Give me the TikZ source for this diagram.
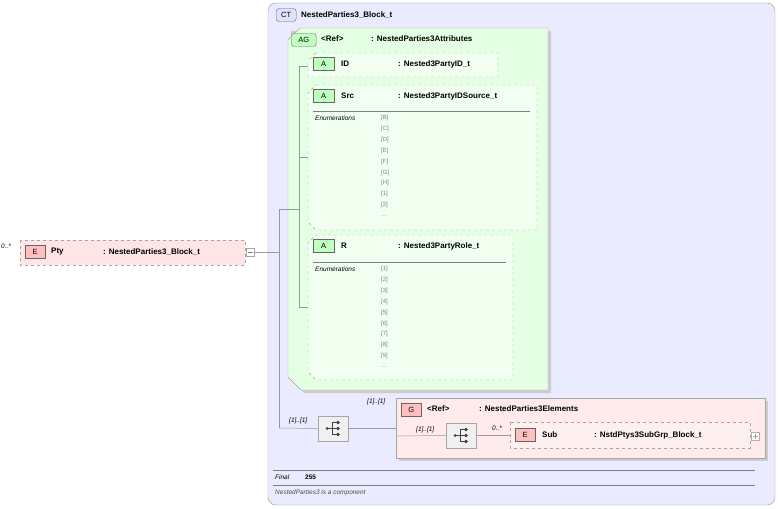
\documentclass[tikz,border=0pt]{standalone}
\usepackage{fontspec}
\setmainfont{Liberation Sans}
\begin{document}
\begin{tikzpicture}[x=1pt,y=-1pt,
 t/.style={font=\fontsize{8}{9}\selectfont\bfseries,anchor=west,inner sep=0pt},
 sm/.style={font=\fontsize{6.5}{7}\selectfont\itshape,anchor=west,inner sep=0pt},
 en/.style={font=\fontsize{6}{7}\selectfont,text=gray,anchor=west,inner sep=0pt},
 badge/.style={draw=gray!80!black,font=\fontsize{7.5}{8}\selectfont,inner sep=0pt,minimum height=13pt,anchor=west},
 dbox/.style={draw=gray!70,dashed},
 con/.style={draw=gray!80,line width=0.5pt}]
\useasboundingbox (0,0) rectangle (778,508);
% CT box
\draw[draw=gray!80,fill=blue!8,rounded corners=8] (268,3) rectangle (775,505);
\node[badge,fill=blue!12,rounded corners=3,minimum width=20pt] (ctb) at (276,15) {CT};
\node[t] (ctt) at (301,15) {NestedParties3\_Block\_t};
% AG box
\fill[gray!40] (291,31)--(551,31)--(551,393)--(304,393)--(291,380)--cycle;
\draw[draw=gray!70,fill=green!10] (300,28)--(548,28)--(548,390)--(301,390)--(288,377)--(288,40)--cycle;
\node[badge,fill=green!25,rounded corners=3,minimum width=25pt] (agb) at (291,40) {AG};
\node[t] (agr) at (321,39) {<Ref>};
\node[t] (agt) at (371,39) {: NestedParties3Attributes};
% ID
\draw[dbox,fill=green!6] (316,53)--(498,53)--(498,77)--(308,77)--(308,61)--cycle;
\node[badge,fill=green!25,minimum width=21pt] (idb) at (313,64) {A};
\node[t] (idn) at (341,64) {ID};
\node[t] (idt) at (398,64) {: Nested3PartyID\_t};
% Src
\draw[dbox,fill=green!6] (316,85)--(537,85)--(537,230)--(316,230)--(308,222)--(308,93)--cycle;
\node[badge,fill=green!25,minimum width=21pt] (srb) at (313,96) {A};
\node[t] (srn) at (341,96) {Src};
\node[t] (srt) at (398,96) {: Nested3PartyIDSource\_t};
\draw[gray] (313,111)--(530,111);
\node[sm] (sre) at (315,118) {Enumerations};
\foreach \s [count=\i from 0] in {{[B]},{[C]},{[D]},{[E]},{[F]},{[G]},{[H]},{[1]},{[2]}}
  \node[en] (se\i) at (381,118+10.9*\i) {\s};
\node[en] (sedots) at (381,216) {\ldots};
% R
\draw[dbox,fill=green!6] (316,235)--(513,235)--(513,380)--(316,380)--(308,372)--(308,243)--cycle;
\node[badge,fill=green!25,minimum width=21pt] (rb) at (313,246) {A};
\node[t] (rn) at (341,246) {R};
\node[t] (rt) at (398,246) {: Nested3PartyRole\_t};
\draw[gray] (313,262)--(506,262);
\node[sm] (re) at (315,269) {Enumerations};
\foreach \s [count=\i from 0] in {{[1]},{[2]},{[3]},{[4]},{[5]},{[6]},{[7]},{[8]},{[9]}}
  \node[en] (re\i) at (381,269+10.9*\i) {\s};
\node[en] (redots) at (381,367) {\ldots};
% attribute tree
\coordinate (a1) at (299,66); \coordinate (a2) at (299,307);
\draw[con] (308,66)--(a1)--(a2)--(308,307);
\draw[con] (299,157)--(308,157);
% Pty
\draw[dbox,fill=red!10] (20,240) rectangle (245,265);
\node[badge,fill=red!25,minimum width=20pt] (pe) at (25,252) {E};
\node[t] (pn) at (51,252) {Pty};
\node[t] (pt) at (103,252) {: NestedParties3\_Block\_t};
\node[sm] (pm) at (1,246) {0..*};
\node[draw=gray!70,fill=white,minimum size=8pt,inner sep=0pt] (minus) at (250,252) {};
\draw[gray] (247.5,252)--(252.5,252);
% main connector
\coordinate (j1) at (279,209); \coordinate (j2) at (279,428);
\draw[con] (minus.east)--(279,252);
\draw[con] (299,209)--(j1)--(j2);
% seq1
\node[draw=gray!70,fill=gray!12,minimum width=30pt,minimum height=25pt,inner sep=0pt] (s1) at (333,428.5) {};
\draw[con] (j2)--(s1.west);
\node[sm] (s1m) at (289,421) {[1]..[1]};
% G box
\fill[gray!40] (399,401) rectangle (768,461);
\draw[draw=gray!70,fill=red!8] (396,398) rectangle (765,458);
\node[badge,fill=red!25,minimum width=20pt] (gb) at (401,410) {G};
\node[t] (gr) at (427,409) {<Ref>};
\node[t] (gt) at (479,409) {: NestedParties3Elements};
\node[sm] (gm) at (367,402) {[1]..[1]};
\draw[con] (s1.east)--(396,428.5);
% seq2
\node[draw=gray!70,fill=gray!12,minimum width=30pt,minimum height=25pt,inner sep=0pt] (s2) at (461,435.5) {};
\draw[con] (396,436)--(s2.west);
\node[sm] (s2m) at (416,430) {[1]..[1]};
% sequence icons
\foreach \n in {s1,s2}{
  \fill[black!75] ([xshift=-6pt]\n.center) circle (1.5pt);
  \draw[black!75,line width=0.6pt] ([xshift=-6pt]\n.center)--([xshift=-1pt]\n.center)
     ([xshift=-1pt,yshift=-6pt]\n.center)--([xshift=-1pt,yshift=6pt]\n.center)
     ([xshift=-1pt,yshift=-6pt]\n.center)--([xshift=4pt,yshift=-6pt]\n.center)
     ([xshift=-1pt]\n.center)--([xshift=4pt]\n.center)
     ([xshift=-1pt,yshift=6pt]\n.center)--([xshift=4pt,yshift=6pt]\n.center);
  \foreach \d in {-6,0,6} \fill[black!75] ([xshift=5pt,yshift=\d pt]\n.center) circle (1.8pt);
}
% Sub
\draw[dbox,fill=red!6] (510,422) rectangle (750,448);
\node[badge,fill=red!25,minimum width=20pt] (sb) at (515,435) {E};
\node[t] (sn) at (542,435) {Sub};
\node[t] (st) at (594,435) {: NstdPtys3SubGrp\_Block\_t};
\node[sm] (sm0) at (492,428) {0..*};
\draw[con] (s2.east)--(510,435.5);
\node[draw=gray!60,fill=white,minimum size=8pt,inner sep=0pt] (plus) at (755,436) {};
\draw[gray!70] (752.5,436)--(757.5,436) (755,433.5)--(755,438.5);
% footer
\draw[gray] (273,470)--(755,470) (273,485)--(755,485);
\node[sm] (fin) at (275,477) {Final};
\node[t,font=\fontsize{6.5}{7}\selectfont\bfseries] (fv) at (305,477) {255};
\node[sm,text=black!70] (fc) at (275,493) {NestedParties3 is a component};
\end{tikzpicture}
\end{document}
